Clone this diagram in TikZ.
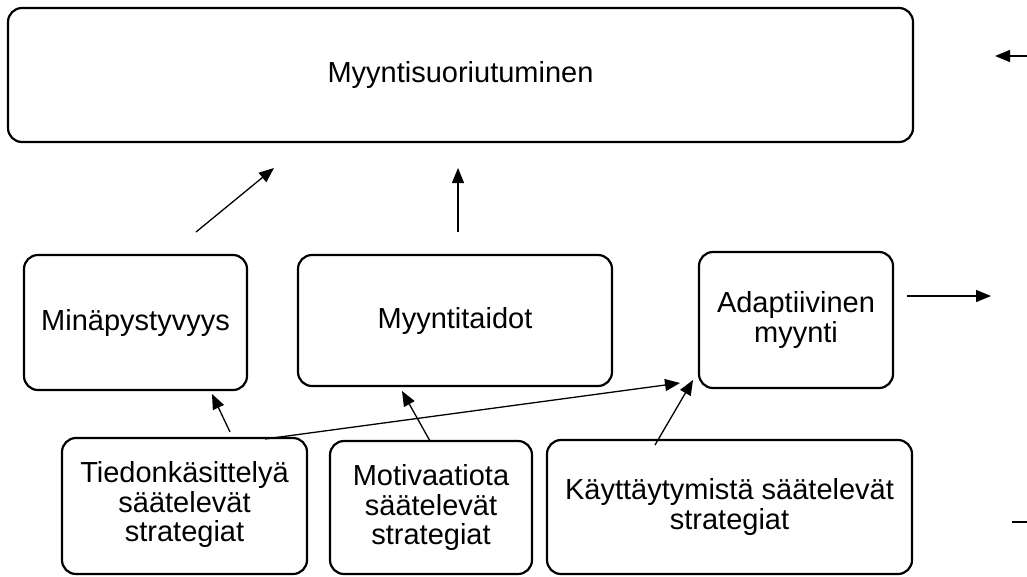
\documentclass[tikz,border=0pt]{standalone}
\usepackage{fontspec}
\setmainfont{Liberation Sans}
\usetikzlibrary{arrows.meta}
\newcommand{\upstack}[2]{\raisebox{#1}{\begin{tabular}{@{}c@{}}#2\end{tabular}}}
\begin{document}
\begin{tikzpicture}[x=1pt,y=-1pt,
  box/.style={draw, line width=2.2pt, rounded corners=14pt, align=center, inner sep=0pt, outer sep=0pt, font=\fontsize{29}{29.5}\selectfont},
  arr/.style={line width=1.3pt, -{Triangle[length=15pt,width=12pt]}},
  plain/.style={line width=1.3pt}]
\useasboundingbox (0,0) rectangle (1027,576);
% boxes
\node[box, minimum width=905pt, minimum height=134pt] (perf) at (460.5,75) {Myyntisuoriutuminen};
\node[box, minimum width=223pt, minimum height=135pt] (mina) at (135.5,322.5) {Minäpystyvyys};
\node[box, minimum width=314pt, minimum height=131pt] (taidot) at (455,320.5) {Myyntitaidot};
\node[box, minimum width=194pt, minimum height=136pt] (adapt) at (796,320) {Adaptiivinen\\myynti};
\node[box, minimum width=245pt, minimum height=136pt] (tied) at (184.5,506) {\upstack{8pt}{Tiedonkäsittelyä\\säätelevät\\strategiat}};
\node[box, minimum width=202pt, minimum height=133pt] (motiv) at (431,507.5) {Motivaatiota\\säätelevät\\strategiat};
\node[box, minimum width=365pt, minimum height=134pt] (kayt) at (729.5,507) {Käyttäytymistä säätelevät\\strategiat};
% free connector ends
\coordinate (a1s) at (196,232);
\coordinate (a1e) at (274,168);
\coordinate (a2s) at (458,232);
\coordinate (a2e) at (458,168);
\coordinate (a3s) at (1027,56);
\coordinate (a3e) at (995,56);
\coordinate (a4s) at (907,296);
\coordinate (a4e) at (991,296);
\coordinate (d1) at (1012,522);
\coordinate (d2) at (1027,522);
\coordinate (b1s) at (230,432);
\coordinate (b1e) at (212,394);
\coordinate (b2s) at (265,439);
\coordinate (b2e) at (680,383);
\coordinate (b3s) at (430,441);
\coordinate (b3e) at (402,391);
\coordinate (b4s) at (655,445);
\coordinate (b4e) at (693,380);
% connectors
\draw[arr] (a1s) -- (a1e);
\draw[arr] (a2s) -- (a2e);
\draw[arr] (a3s) -- (a3e);
\draw[arr] (a4s) -- (a4e);
\draw[plain] (d1) -- (d2);
\draw[arr] (b1s) -- (b1e);
\draw[arr] (b2s) -- (b2e);
\draw[arr] (b3s) -- (b3e);
\draw[arr] (b4s) -- (b4e);
\end{tikzpicture}
\end{document}
